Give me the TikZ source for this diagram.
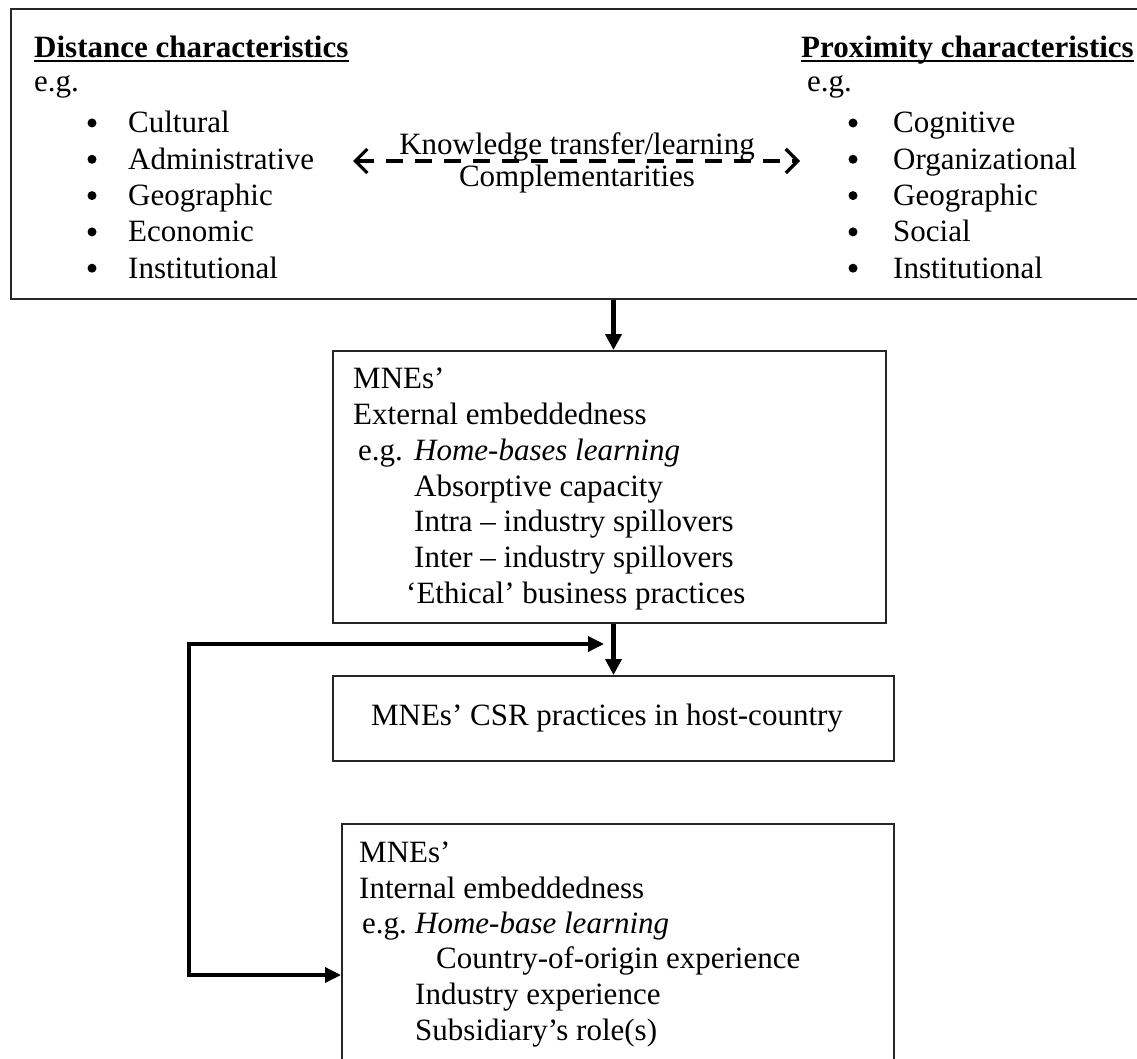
\documentclass[tikz,border=0pt]{standalone}
\usepackage{fontspec}
\setmainfont{Liberation Serif}
\usetikzlibrary{arrows.meta}
\begin{document}
\begin{tikzpicture}[x=1pt,y=-1pt,
  every node/.style={font=\fontsize{31pt}{36pt}\selectfont},
  txt/.style={anchor=base west, inner sep=0pt},
  ctxt/.style={anchor=base, inner sep=0pt},
  dot/.style={circle, fill=black, inner sep=0pt, minimum size=9pt},
  frame/.style={draw=black!85, line width=2pt, inner sep=0pt, anchor=north west},
  bigarrow/.style={line width=4.5pt, -{Triangle[length=16pt,width=16pt]}},
  fbarrow/.style={line width=3.5pt, {Triangle[length=16pt,width=15pt]}-{Triangle[length=16pt,width=15pt]}},
  dasharrow/.style={line width=3.2pt, dash pattern=on 17pt off 12pt,
     {Straight Barb[length=12pt,width=24pt,line width=3.2pt]}-{Straight Barb[length=12pt,width=24pt,line width=3.2pt]}},
]
\useasboundingbox (0,0) rectangle (1137,1059);
\fill[white] (0,0) rectangle (1137,1059);

% boxes
\node[frame, minimum width=1160pt, minimum height=290pt] (top) at (10,8) {};
\node[frame, minimum width=553pt, minimum height=272pt] (ext) at (332,350) {};
\node[frame, minimum width=561pt, minimum height=85pt] (csr) at (332,675) {};
\node[frame, minimum width=552pt, minimum height=260pt] (int) at (341,823) {};

% distance characteristics
\node[txt] (dtitle) at (34,58) {\textbf{Distance characteristics}};
\draw[line width=2pt] ([yshift=-3.5pt]dtitle.base west) -- ([yshift=-3.5pt]dtitle.base east);
\node[txt] (deg) at (34,92) {e.g.};
\foreach \t [count=\i] in {Cultural, Administrative, Geographic, Economic, Institutional} {
  \node[dot] (db\i) at (92,{123+36.3*(\i-1)}) {};
  \node[txt] (dl\i) at (128,{133+36.3*(\i-1)}) {\t};
}

% proximity characteristics
\node[txt] (ptitle) at (801,58) {\textbf{Proximity characteristics}};
\draw[line width=2pt] ([yshift=-3.5pt]ptitle.base west) -- ([yshift=-3.5pt]ptitle.base east);
\node[txt] (peg) at (807,92) {e.g.};
\foreach \t [count=\i] in {Cognitive, Organizational, Geographic, Social, Institutional} {
  \node[dot] (pb\i) at (853,{123+36.3*(\i-1)}) {};
  \node[txt] (pl\i) at (893,{133+36.3*(\i-1)}) {\t};
}

% dashed double arrow
\coordinate (kl) at (353,161);
\coordinate (kr) at (800,161);
\draw[dasharrow] (kl) -- (kr);
\node[ctxt] (kt) at (577,155) {Knowledge transfer/learning};
\node[ctxt] (kc) at (577,187) {Complementarities};

% external embeddedness
\node[txt] (e1) at (353,388) {MNEs’};
\node[txt] (e2) at (353,424) {External embeddedness};
\node[txt] (e3) at (358,460) {e.g.};
\node[txt] (e4) at (414,460) {\textit{Home-bases learning}};
\node[txt] (e5) at (414,496) {Absorptive capacity};
\node[txt] (e6) at (414,531) {Intra – industry spillovers};
\node[txt] (e7) at (414,567) {Inter – industry spillovers};
\node[txt] (e8) at (406,603) {‘Ethical’ business practices};

% CSR
\node[ctxt] (csrt) at (607,725) {MNEs’ CSR practices in host-country};

% internal embeddedness
\node[txt] (i1) at (359,862) {MNEs’};
\node[txt] (i2) at (359,898) {Internal embeddedness};
\node[txt] (i3) at (362,933) {e.g.};
\node[txt] (i4) at (415,933) {\textit{Home-base learning}};
\node[txt] (i5) at (436,968) {Country-of-origin experience};
\node[txt] (i6) at (415,1004) {Industry experience};
\node[txt] (i7) at (415,1040) {Subsidiary’s role(s)};

% connectors
\draw[bigarrow] (top.south -| csr.north) -- (ext.north -| csr.north);
\draw[bigarrow] (ext.south -| csr.north) -- (csr.north);
\coordinate (fbtip) at (604,644);
\coordinate (fbtop) at (189,644);
\coordinate (fbbot) at (189,975);
\draw[fbarrow] (fbtip) -- (fbtop) -- (fbbot) -- (fbbot -| int.west);
\end{tikzpicture}
\end{document}
